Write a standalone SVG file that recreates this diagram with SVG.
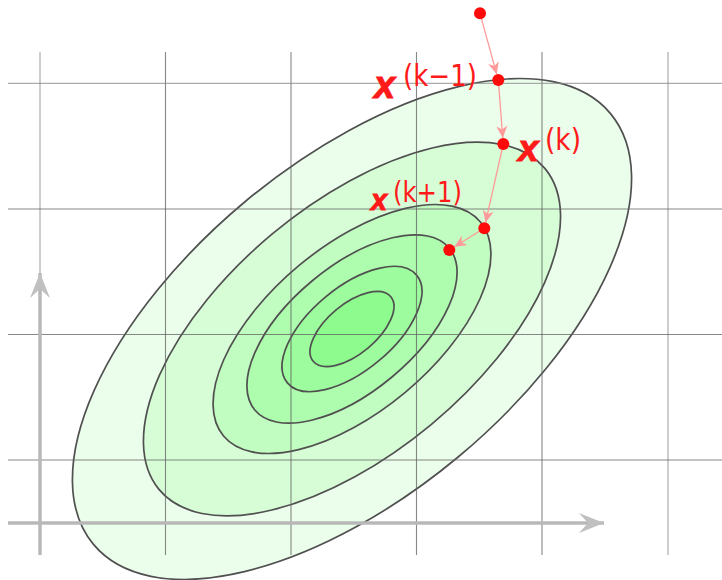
<svg xmlns="http://www.w3.org/2000/svg" width="722" height="580" viewBox="0 0 722 580">
<style>
.lvl{stroke:#505050;stroke-width:1.7}
.grid{stroke:#606060;stroke-width:1.1;stroke-opacity:0.75}
.gridl{stroke:#888;stroke-width:1.2;stroke-opacity:0.7}
.axis{stroke:#b8b8b8;stroke-width:3.5;fill:none}
.step{stroke:#ff9a9a;stroke-width:1.3;fill:none;marker-end:url(#ah)}
.pt{fill:#ff0a0a}
.bx{font-family:"Liberation Sans",Arial,sans-serif;font-weight:bold;font-style:italic;fill:#ff1a1a;stroke:#ff1a1a;stroke-width:1}
.sup{font-family:"DejaVu Sans",sans-serif;fill:#ff1a1a}
</style>
<defs>
<marker id="ah" viewBox="-13 -7 14 14" refX="0" refY="0" markerWidth="14" markerHeight="14" markerUnits="userSpaceOnUse" orient="auto">
<path d="M0,0 L-12,-5.5 L-8.5,0 L-12,5.5 Z" fill="#ff9a9a"/>
</marker>
<marker id="axh" viewBox="-26 -11 27 22" refX="0" refY="0" markerWidth="27" markerHeight="22" markerUnits="userSpaceOnUse" orient="auto">
<path d="M0,0 L-25,-10 L-16,0 L-25,10 Z" fill="#c0c0c0"/>
</marker>
</defs>
<rect width="722" height="580" fill="#fff"/>
<g id="contours" transform="rotate(-39.8 352 329)">
<ellipse class="lvl" cx="352" cy="329" rx="336.5" ry="166.3" fill="#ebfdeb"/>
<ellipse class="lvl" cx="352" cy="329" rx="251" ry="124.1" fill="#d7fdd7"/>
<ellipse class="lvl" cx="352" cy="329" rx="167.2" ry="82.7" fill="#c1fcc1"/>
<ellipse class="lvl" cx="352" cy="329" rx="126.5" ry="62.5" fill="#aefcae"/>
<ellipse class="lvl" cx="352" cy="329" rx="84.1" ry="41.6" fill="#9dfc9d"/>
<ellipse class="lvl" cx="352" cy="329" rx="50.5" ry="24.9" fill="#8dfb8d"/>
</g>
<g id="grid">
<line class="gridl" x1="40" y1="52" x2="40" y2="555"/>
<line class="grid" x1="165.5" y1="52" x2="165.5" y2="555"/>
<line class="grid" x1="291" y1="52" x2="291" y2="555"/>
<line class="grid" x1="416.5" y1="52" x2="416.5" y2="555"/>
<line class="grid" x1="542" y1="52" x2="542" y2="555"/>
<line class="gridl" x1="668" y1="52" x2="668" y2="555"/>
<line class="gridl" x1="8" y1="83.3" x2="722" y2="83.3"/>
<line class="grid" x1="8" y1="209" x2="722" y2="209"/>
<line class="grid" x1="8" y1="334.5" x2="722" y2="334.5"/>
<line class="grid" x1="8" y1="460" x2="722" y2="460"/>
</g>
<g id="axes">
<line class="axis" x1="8" y1="523" x2="604" y2="523" marker-end="url(#axh)"/>
<line class="axis" x1="40" y1="555" x2="40" y2="273" marker-end="url(#axh)"/>
</g>
<g id="connectors">
<line class="step" x1="480" y1="13.3" x2="496.7" y2="74.2"/>
<line class="step" x1="498.3" y1="80" x2="502.8" y2="138"/>
<line class="step" x1="503.3" y1="144" x2="485.6" y2="222.4"/>
<line class="step" x1="484.3" y1="228.3" x2="454.4" y2="246.8"/>
</g>
<g id="p0"><circle class="pt" cx="480" cy="13.3" r="6"/></g>
<g id="p1"><circle class="pt" cx="498.3" cy="80" r="6"/>
<text class="bx" x="374" y="98" font-size="38">x</text>
<text class="sup" x="403" y="86.4" font-size="30" textLength="74" lengthAdjust="spacingAndGlyphs">(k−1)</text></g>
<g id="p2"><circle class="pt" cx="503.3" cy="144" r="6"/>
<text class="bx" x="518" y="161" font-size="37">x</text>
<text class="sup" x="545" y="150" font-size="30" textLength="36" lengthAdjust="spacingAndGlyphs">(k)</text></g>
<g id="p3"><circle class="pt" cx="484.3" cy="228.3" r="6"/>
<text class="bx" x="371" y="210" font-size="29">x</text>
<text class="sup" x="393" y="202" font-size="28" textLength="69" lengthAdjust="spacingAndGlyphs">(k+1)</text></g>
<g id="p4"><circle class="pt" cx="449.3" cy="250" r="6"/></g>
</svg>
